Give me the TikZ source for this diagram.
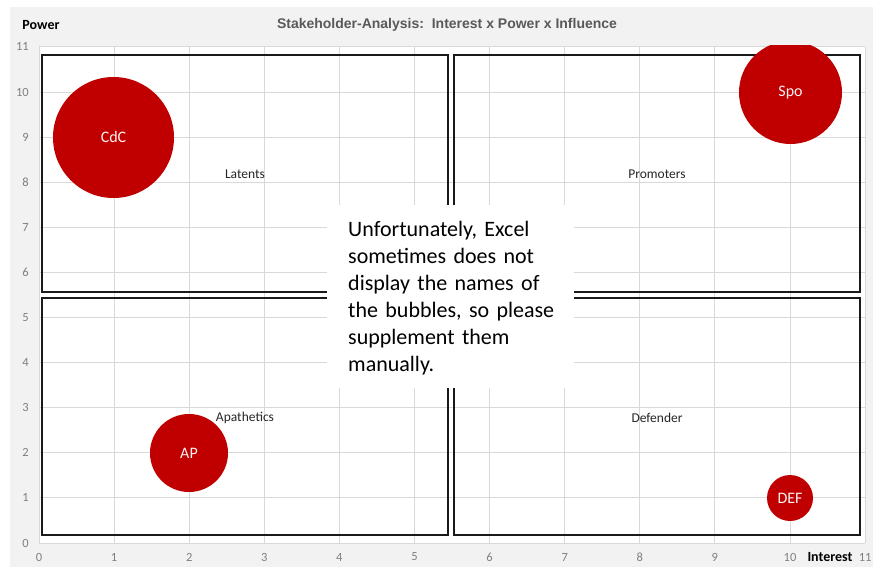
\documentclass[tikz,border=0pt]{standalone}
\usepackage{fontspec}
\setmainfont{Carlito}
\newfontfamily\titlefont{Liberation Sans}
\definecolor{panel}{HTML}{F2F2F2}
\definecolor{gridc}{HTML}{D9D9D9}
\definecolor{bub}{HTML}{C00000}
\definecolor{tickc}{HTML}{7F7F7F}
\definecolor{titlec}{HTML}{595959}
\definecolor{lbl}{HTML}{262626}
\begin{document}
\begin{tikzpicture}[x=1pt,y=-1pt,
  bubble/.style={circle,fill=bub,draw=none,inner sep=0pt,text=white!95!bub,font=\fontsize{16}{18}\selectfont},
  quad/.style={draw=black!90,line width=2.8pt},
  ticklbl/.style={text=tickc,font=\fontsize{12.5}{14}\selectfont,inner sep=0pt},
  quadlbl/.style={text=lbl,font=\fontsize{13.5}{15}\selectfont,inner sep=0pt},
  axlbl/.style={font=\bfseries\fontsize{14}{16}\selectfont,inner sep=0pt},
  gridline/.style={draw=gridc,line width=0.9pt}]
\useasboundingbox (0,0) rectangle (873,567);
\fill[white] (0,0) rectangle (873,567);
\fill[panel] (10,7) rectangle (873,567);
\fill[white] (39,47) rectangle (865,543);
% grid
\foreach \i in {0,...,11} \draw[gridline] ({39+75.1*\i},47) -- ({39+75.1*\i},543);
\foreach \j in {0,...,11} \draw[gridline] (39,{543-45.1*\j}) -- (865,{543-45.1*\j});
% tick labels
\foreach \i in {0,...,11} \node[ticklbl] (xt\i) at ({39+75.1*\i},557) {\i};
\foreach \j in {0,...,11} \node[ticklbl,anchor=east] (yt\j) at (29,{543-45.1*\j}) {\j};
% axis titles
\node[axlbl] (power) at (41,25) {Power};
\node[axlbl] (interest) at (830,557) {Interest};
\node[inner sep=0pt,text=titlec,font=\titlefont\bfseries\fontsize{14}{16}\selectfont] (title) at (447,25) {Stakeholder-Analysis:\ \ Interest x Power x Influence};
% quadrants
\draw[quad] (42,55) rectangle (448,292);
\draw[quad] (454,55) rectangle (860,292);
\draw[quad] (42,298) rectangle (448,535);
\draw[quad] (454,298) rectangle (860,535);
% quadrant labels
\node[quadlbl] (latents) at (245,174) {Latents};
\node[quadlbl] (promoters) at (657,174) {Promoters};
\node[quadlbl] (apathetics) at (245,418) {Apathetics};
\node[quadlbl] (defender) at (657,418) {Defender};
% bubbles
\begin{scope}
\clip (39,46) rectangle (865,543);
\node[bubble,minimum size=121pt] (cdc) at (113.5,137.5) {CdC};
\node[bubble,minimum size=103pt] (spo) at (790.5,92.5) {Spo};
\node[bubble,minimum size=78pt] (ap) at (189,453) {AP};
\node[bubble,minimum size=46pt] (def) at (790,498) {DEF};
\end{scope}
% note box
\fill[white] (327,205) rectangle (574,388);
\node[anchor=west,inner sep=0pt,align=left,text width=230pt,font=\fontsize{22}{27}\selectfont] (note) at (348,298.5)
  {Unfortunately, Excel\\sometimes does not\\display the names of\\the bubbles, so please\\supplement them\\manually.};
\end{tikzpicture}
\end{document}
